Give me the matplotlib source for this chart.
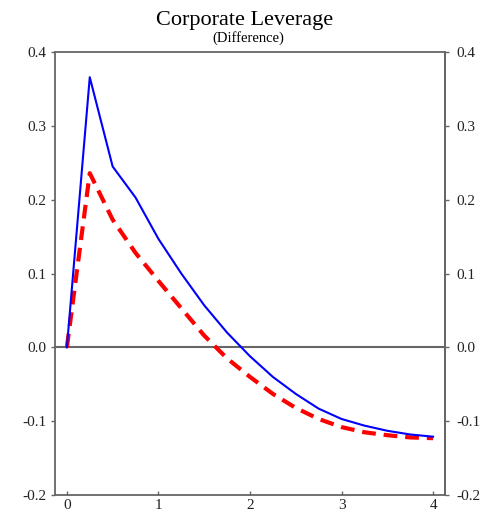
import matplotlib
matplotlib.use('Agg')
import matplotlib.pyplot as plt
import numpy as np

# quarters after shock, in years
years = [0, 0.25, 0.5, 0.75, 1.0, 1.25, 1.5, 1.75, 2.0, 2.25, 2.5, 2.75, 3.0, 3.25, 3.5, 3.75, 4.0]
blue_vals = [0, 0.366, 0.245, 0.203, 0.147, 0.100, 0.057, 0.020, -0.012, -0.040, -0.063,
             -0.083, -0.097, -0.106, -0.113, -0.118, -0.121]
red_vals = [0, 0.236, 0.173, 0.128, 0.090, 0.053, 0.016, -0.015, -0.040, -0.063, -0.082,
            -0.097, -0.108, -0.115, -0.119, -0.122, -0.123]
xticks = [0, 1, 2, 3, 4]
yticks = [-0.2, -0.1, 0.0, 0.1, 0.2, 0.3, 0.4]

plt.rcParams['font.family'] = ['Liberation Serif', 'DejaVu Serif']

fig = plt.figure(figsize=(4.9, 5.16), dpi=100)
ax = fig.add_axes([0.1122, 0.0407, 0.7959, 0.8583])

ax.axhline(0, color='#666666', lw=1.5, zorder=1)
ax.plot(years, blue_vals, color='blue', lw=1.5, zorder=3)
ax.plot(years, red_vals, color='red', lw=3, ls=(0, (3.3, 1.9)), zorder=2)

ax.set_xlim(-0.13, 4.13)
ax.set_ylim(-0.2, 0.4)
ax.set_xticks(xticks)
ax.set_xticklabels([str(t) for t in xticks])
ax.set_yticks(yticks)
ax.set_yticklabels(['%.1f' % t for t in yticks])

for s in ax.spines.values():
    s.set_color('#666666')
    s.set_linewidth(1.3)

ax.tick_params(axis='y', direction='out', length=3, width=1, color='#666666',
               left=True, right=False, labelleft=True, labelright=False,
               labelsize=11, pad=3, labelcolor='#222222')
ax.tick_params(axis='x', direction='in', length=3, width=1, color='#666666',
               bottom=True, top=False, labelsize=11, pad=3, labelcolor='#222222')

# right hand copy of the y axis
ax2 = ax.secondary_yaxis('right')
ax2.set_yticks(yticks)
ax2.set_yticklabels(['%.1f' % t for t in yticks])
ax2.spines['right'].set_color('#666666')
ax2.spines['right'].set_linewidth(1.3)
ax2.tick_params(direction='out', length=3, width=1, color='#666666',
                labelsize=11, pad=5, labelcolor='#222222')

fig.text(0.499, 0.961, 'Corporate Leverage', ha='center', va='center', fontsize=16)
fig.text(0.507, 0.926, '(Difference)', ha='center', va='center', fontsize=10.5)

fig.savefig('out.png', dpi=100)
